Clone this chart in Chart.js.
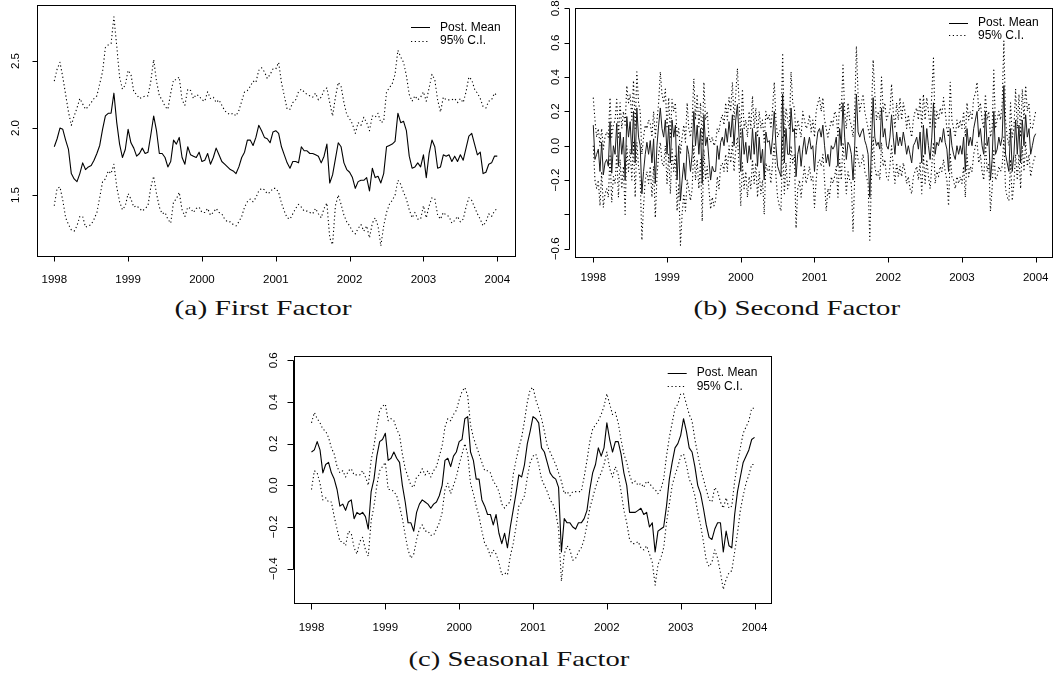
<!DOCTYPE html>
<html>
<head>
<meta charset="utf-8">
<title>Factors</title>
<script src="https://cdn.jsdelivr.net/npm/chart.js@4.4.1/dist/chart.umd.min.js"></script>
<style>
  html, body { margin: 0; padding: 0; background: #fff; }
  body { width: 1055px; height: 674px; position: relative; overflow: hidden; }
  canvas { position: absolute; display: block; }
  .caption {
    position: absolute;
    font-family: "Liberation Serif", "DejaVu Serif", serif;
    font-size: 22px;
    line-height: 22px;
    color: #111;
    white-space: nowrap;
    transform-origin: center center;
  }
</style>
</head>
<body>
<canvas id="firstChart" width="520" height="295" style="left:0;top:0"></canvas>
<canvas id="secondChart" width="535" height="295" style="left:520px;top:0"></canvas>
<canvas id="seasonalChart" width="560" height="300" style="left:240px;top:340px"></canvas>
<div class="caption" id="capFirst">(a) First Factor</div>
<div class="caption" id="capSecond">(b) Second Factor</div>
<div class="caption" id="capSeasonal">(c) Seasonal Factor</div>
<script>
// Eje temporal común
const startYear = 1998;
const yearTicks = [1998, 1999, 2000, 2001, 2002, 2003, 2004];
const legendLabels = ['Post. Mean', '95% C.I.'];

// (a) Primer factor, datos quincenales
const firstPerYear = 26;
const firstMean = [
  1.86, 1.92, 2.00, 1.99, 1.91, 1.84, 1.66, 1.62, 1.60, 1.66,
  1.74, 1.69, 1.71, 1.72, 1.76, 1.81, 1.87, 1.99, 2.09, 2.11,
  2.11, 2.26, 2.04, 1.88, 1.78, 1.84, 1.99, 1.89, 1.85, 1.79,
  1.81, 1.85, 1.81, 1.82, 1.95, 2.09, 1.98, 1.81, 1.81, 1.78,
  1.71, 1.75, 1.91, 1.88, 1.93, 1.78, 1.73, 1.86, 1.80, 1.79,
  1.78, 1.82, 1.75, 1.76, 1.81, 1.73, 1.78, 1.85, 1.80, 1.75,
  1.73, 1.71, 1.69, 1.68, 1.66, 1.71, 1.78, 1.82, 1.91, 1.91,
  1.87, 1.93, 2.02, 1.98, 1.93, 1.92, 1.89, 1.97, 1.98, 1.96,
  1.86, 1.80, 1.74, 1.70, 1.75, 1.75, 1.74, 1.86, 1.83, 1.83,
  1.81, 1.81, 1.80, 1.79, 1.74, 1.79, 1.88, 1.59, 1.65, 1.77,
  1.89, 1.86, 1.74, 1.69, 1.67, 1.63, 1.55, 1.60, 1.61, 1.61,
  1.63, 1.53, 1.70, 1.63, 1.64, 1.59, 1.66, 1.86, 1.87, 1.88,
  1.90, 2.11, 2.04, 2.05, 1.98, 1.79, 1.70, 1.71, 1.74, 1.71,
  1.80, 1.63, 1.81, 1.91, 1.86, 1.70, 1.71, 1.80, 1.79, 1.80,
  1.75, 1.79, 1.75, 1.80, 1.76, 1.85, 1.94, 1.96, 1.88, 1.80,
  1.82, 1.66, 1.67, 1.73, 1.74, 1.79, 1.79
];
const firstUpper = [
  2.35, 2.44, 2.49, 2.38, 2.25, 2.12, 2.02, 2.09, 2.15, 2.22,
  2.18, 2.14, 2.16, 2.19, 2.22, 2.24, 2.33, 2.42, 2.60, 2.62,
  2.63, 2.83, 2.61, 2.38, 2.29, 2.32, 2.43, 2.40, 2.27, 2.25,
  2.22, 2.23, 2.24, 2.24, 2.35, 2.51, 2.35, 2.24, 2.21, 2.16,
  2.14, 2.26, 2.36, 2.36, 2.38, 2.21, 2.17, 2.29, 2.28, 2.22,
  2.25, 2.24, 2.21, 2.20, 2.27, 2.22, 2.23, 2.19, 2.21, 2.17,
  2.13, 2.11, 2.10, 2.11, 2.09, 2.13, 2.20, 2.27, 2.28, 2.31,
  2.35, 2.34, 2.43, 2.45, 2.42, 2.37, 2.40, 2.44, 2.44, 2.49,
  2.34, 2.24, 2.14, 2.14, 2.19, 2.21, 2.27, 2.29, 2.27, 2.25,
  2.24, 2.23, 2.26, 2.21, 2.23, 2.28, 2.30, 2.19, 2.09, 2.23,
  2.34, 2.31, 2.19, 2.10, 2.07, 2.03, 1.96, 2.04, 2.02, 2.08,
  2.04, 1.98, 2.09, 2.08, 2.11, 2.04, 2.05, 2.27, 2.30, 2.33,
  2.40, 2.58, 2.53, 2.49, 2.39, 2.25, 2.20, 2.24, 2.21, 2.23,
  2.27, 2.20, 2.30, 2.40, 2.36, 2.21, 2.12, 2.23, 2.21, 2.21,
  2.21, 2.22, 2.19, 2.22, 2.19, 2.27, 2.38, 2.36, 2.29, 2.26,
  2.22, 2.16, 2.15, 2.20, 2.21, 2.26, 2.24
];
const firstLower = [
  1.42, 1.55, 1.56, 1.46, 1.33, 1.28, 1.24, 1.23, 1.27, 1.34,
  1.34, 1.26, 1.27, 1.28, 1.32, 1.37, 1.48, 1.60, 1.62, 1.68,
  1.66, 1.73, 1.56, 1.45, 1.39, 1.42, 1.51, 1.47, 1.41, 1.42,
  1.40, 1.38, 1.40, 1.42, 1.56, 1.64, 1.51, 1.41, 1.36, 1.37,
  1.32, 1.29, 1.45, 1.47, 1.52, 1.39, 1.34, 1.41, 1.40, 1.37,
  1.40, 1.41, 1.37, 1.37, 1.40, 1.35, 1.37, 1.40, 1.37, 1.36,
  1.32, 1.30, 1.30, 1.28, 1.27, 1.30, 1.34, 1.41, 1.45, 1.47,
  1.45, 1.48, 1.53, 1.55, 1.54, 1.51, 1.52, 1.55, 1.55, 1.52,
  1.44, 1.38, 1.33, 1.32, 1.36, 1.40, 1.43, 1.41, 1.38, 1.38,
  1.37, 1.36, 1.40, 1.36, 1.33, 1.40, 1.44, 1.18, 1.13, 1.42,
  1.50, 1.43, 1.35, 1.30, 1.27, 1.23, 1.21, 1.25, 1.28, 1.23,
  1.27, 1.18, 1.29, 1.33, 1.27, 1.12, 1.27, 1.37, 1.43, 1.46,
  1.50, 1.61, 1.58, 1.52, 1.47, 1.39, 1.33, 1.37, 1.32, 1.32,
  1.42, 1.33, 1.42, 1.48, 1.47, 1.35, 1.32, 1.37, 1.35, 1.34,
  1.29, 1.31, 1.34, 1.30, 1.32, 1.41, 1.48, 1.46, 1.41, 1.36,
  1.32, 1.27, 1.30, 1.36, 1.34, 1.38, 1.40
];
const firstYTicks = [1.5, 2.0, 2.5];
const firstYLabels = ['1.5', '2.0', '2.5'];

// (b) Segundo factor, datos casi semanales
const secondPerYear = 44;
const secondMean = [
  0.12, -0.08, -0.05, -0.02, -0.15, 0.02, -0.17, -0.10, -0.08, -0.12,
  0.14, -0.16, 0.00, -0.05, 0.13, -0.12, 0.08, -0.05, 0.05, -0.20,
  0.17, 0.05, 0.14, -0.05, 0.20, -0.10, 0.22, 0.05, 0.00, -0.28,
  -0.15, -0.05, 0.02, -0.05, 0.03, -0.10, 0.04, -0.22, 0.00, 0.12,
  0.22, 0.10, 0.05, 0.15, -0.05, 0.12, -0.10, 0.15, 0.05, 0.12,
  -0.20, 0.00, -0.32, -0.20, -0.10, -0.20, 0.00, -0.05, -0.15, -0.05,
  0.20, 0.00, 0.12, -0.05, 0.10, -0.22, 0.18, 0.00, 0.05, -0.08,
  -0.20, -0.12, -0.15, -0.15, 0.00, -0.08, 0.02, 0.05, 0.00, 0.10,
  0.02, 0.14, 0.05, 0.18, 0.00, 0.15, 0.24, 0.05, -0.15, 0.10,
  -0.05, 0.02, -0.10, 0.00, -0.08, 0.10, -0.05, 0.08, -0.12, 0.05,
  -0.10, -0.02, -0.20, 0.08, 0.02, 0.03, -0.05, 0.05, 0.20, 0.00,
  -0.12, -0.15, -0.18, 0.30, -0.10, 0.10, -0.05,
  -0.05, 0.22, 0.08, 0.10, -0.18, -0.05, 0.00, -0.12, -0.02, 0.05,
  -0.05, 0.00, 0.05, -0.02, 0.00, -0.15, 0.00, 0.08, 0.10, 0.05,
  0.12, 0.00, -0.10, -0.05, -0.12, 0.00, -0.02, 0.00, 0.05, -0.12,
  0.10, 0.00, 0.25, 0.05, -0.08, 0.02, 0.00, -0.05, -0.20, 0.00,
  0.30, 0.08, 0.05, 0.08, 0.10, 0.03, 0.00, -0.05, -0.30, 0.00,
  0.28, 0.05, 0.00, 0.02, -0.02, 0.22, 0.05, 0.10, 0.00, -0.02,
  0.05, 0.18, 0.05, -0.05, 0.08, 0.00, 0.05, 0.00, 0.08, 0.02,
  -0.05, 0.00, -0.05, -0.10, 0.00, 0.02, 0.05, -0.02, 0.08, -0.10,
  0.12, -0.05, 0.10, 0.00, -0.08, 0.05, 0.25, -0.05, 0.02, 0.00,
  0.05, 0.02, 0.10, 0.02, -0.02, -0.15, 0.10, 0.00, -0.05, -0.08,
  0.00, -0.05, 0.00, -0.05, 0.05, -0.15, 0.10, 0.00, 0.05, 0.00,
  0.10, 0.15, 0.20, 0.05, 0.10, 0.00, -0.05, 0.20, 0.00, 0.05,
  -0.20, -0.08, 0.20, -0.05, -0.02, 0.05, 0.00, 0.05, 0.35, -0.05,
  -0.10, -0.15, 0.10, -0.15, -0.05, 0.15, -0.05, 0.12, -0.10, 0.15,
  0.00, 0.18, 0.05, 0.10, -0.05, 0.00, 0.05, 0.07
];
const secondUpper = [
  0.28, 0.15, 0.05, 0.10, 0.00, 0.10, -0.02, 0.05, 0.08, 0.05,
  0.28, 0.05, 0.12, 0.15, 0.27, 0.05, 0.25, 0.10, 0.20, 0.12,
  0.35, 0.25, 0.30, 0.15, 0.38, 0.10, 0.43, 0.25, 0.20, -0.05,
  0.05, 0.12, 0.10, 0.15, 0.13, 0.05, 0.20, 0.05, 0.15, 0.25,
  0.43, 0.30, 0.25, 0.33, 0.10, 0.28, 0.05, 0.27, 0.20, 0.25,
  0.05, 0.10, -0.05, 0.05, 0.12, 0.02, 0.25, 0.10, 0.05, 0.15,
  0.39, 0.15, 0.30, 0.10, 0.25, 0.00, 0.37, 0.15, 0.20, 0.05,
  0.02, 0.05, 0.00, 0.02, 0.10, 0.08, 0.15, 0.18, 0.12, 0.25,
  0.15, 0.28, 0.20, 0.37, 0.15, 0.30, 0.45, 0.25, 0.05, 0.33,
  0.10, 0.15, 0.05, 0.20, 0.10, 0.29, 0.10, 0.22, 0.05, 0.20,
  0.10, 0.15, 0.02, 0.20, 0.15, 0.18, 0.10, 0.22, 0.37, 0.15,
  0.05, 0.08, 0.10, 0.54, 0.05, 0.22, 0.15,
  0.10, 0.43, 0.25, 0.22, 0.05, 0.15, 0.10, 0.05, 0.20, 0.15,
  0.10, 0.12, 0.18, 0.08, 0.15, 0.05, 0.20, 0.25, 0.28, 0.20,
  0.28, 0.15, 0.10, 0.05, 0.10, 0.15, 0.12, 0.20, 0.18, 0.05,
  0.25, 0.20, 0.47, 0.20, 0.10, 0.25, 0.15, 0.12, 0.05, 0.20,
  0.58, 0.30, 0.20, 0.25, 0.30, 0.20, 0.15, 0.10, 0.05, 0.20,
  0.50, 0.30, 0.15, 0.20, 0.15, 0.40, 0.20, 0.25, 0.15, 0.18,
  0.20, 0.36, 0.20, 0.10, 0.25, 0.15, 0.28, 0.15, 0.25, 0.20,
  0.10, 0.18, 0.10, 0.05, 0.15, 0.20, 0.22, 0.15, 0.28, 0.10,
  0.30, 0.15, 0.28, 0.20, 0.10, 0.30, 0.51, 0.10, 0.20, 0.15,
  0.22, 0.18, 0.28, 0.20, 0.10, 0.05, 0.37, 0.15, 0.10, 0.05,
  0.15, 0.10, 0.15, 0.10, 0.20, 0.05, 0.25, 0.15, 0.20, 0.15,
  0.28, 0.30, 0.37, 0.20, 0.25, 0.15, 0.10, 0.30, 0.15, 0.20,
  0.05, 0.10, 0.44, 0.10, 0.15, 0.20, 0.15, 0.25, 0.61, 0.15,
  0.05, 0.00, 0.25, 0.05, 0.10, 0.33, 0.10, 0.30, 0.05, 0.33,
  0.15, 0.35, 0.20, 0.25, 0.10, 0.10, 0.15, 0.20
];
const secondLower = [
  0.00, -0.20, -0.25, -0.20, -0.35, -0.15, -0.36, -0.28, -0.25, -0.30,
  -0.05, -0.33, -0.18, -0.22, -0.05, -0.30, -0.08, -0.25, -0.12, -0.40,
  0.00, -0.15, -0.02, -0.20, 0.02, -0.30, 0.02, -0.12, -0.20, -0.55,
  -0.35, -0.20, -0.15, -0.22, -0.12, -0.30, -0.12, -0.42, -0.18, -0.05,
  0.02, -0.10, -0.12, 0.00, -0.22, -0.05, -0.28, -0.02, -0.15, -0.05,
  -0.38, -0.22, -0.58, -0.40, -0.28, -0.38, -0.20, -0.25, -0.32, -0.25,
  0.00, -0.20, -0.08, -0.25, -0.08, -0.44, -0.02, -0.20, -0.12, -0.25,
  -0.37, -0.30, -0.35, -0.32, -0.18, -0.25, -0.12, -0.10, -0.15, -0.05,
  -0.15, 0.00, -0.10, 0.02, -0.15, -0.02, 0.05, -0.12, -0.35, -0.10,
  -0.25, -0.15, -0.30, -0.18, -0.25, -0.08, -0.22, -0.10, -0.30, -0.15,
  -0.28, -0.20, -0.40, -0.10, -0.15, -0.12, -0.22, -0.10, 0.02, -0.18,
  -0.30, -0.35, -0.38, 0.05, -0.28, -0.10, -0.25,
  -0.22, 0.00, -0.10, -0.05, -0.48, -0.25, -0.20, -0.30, -0.20, -0.12,
  -0.22, -0.18, -0.12, -0.20, -0.18, -0.36, -0.20, -0.10, -0.08, -0.12,
  -0.05, -0.20, -0.38, -0.25, -0.30, -0.18, -0.22, -0.18, -0.12, -0.30,
  -0.08, -0.20, 0.02, -0.12, -0.28, -0.15, -0.20, -0.22, -0.50, -0.18,
  0.00, -0.08, -0.12, -0.10, -0.05, -0.15, -0.18, -0.22, -0.55, -0.18,
  0.05, -0.12, -0.18, -0.15, -0.20, 0.02, -0.12, -0.08, -0.18, -0.20,
  -0.12, 0.00, -0.12, -0.22, -0.10, -0.18, -0.12, -0.18, -0.10, -0.15,
  -0.22, -0.18, -0.25, -0.28, -0.18, -0.15, -0.12, -0.20, -0.10, -0.28,
  -0.05, -0.22, -0.08, -0.18, -0.25, -0.12, 0.02, -0.22, -0.15, -0.18,
  -0.12, -0.15, -0.08, -0.15, -0.20, -0.35, -0.05, -0.18, -0.20, -0.25,
  -0.18, -0.22, -0.18, -0.22, -0.12, -0.30, -0.05, -0.18, -0.12, -0.15,
  -0.05, 0.00, 0.02, -0.10, -0.05, -0.15, -0.20, 0.02, -0.15, -0.10,
  -0.38, -0.25, -0.02, -0.20, -0.18, -0.12, -0.15, -0.12, 0.05, -0.25,
  -0.30, -0.32, -0.08, -0.32, -0.22, -0.05, -0.20, -0.05, -0.25, 0.00,
  -0.15, 0.02, -0.12, -0.05, -0.18, -0.12, -0.08, -0.05
];
const secondYTicks = [-0.6, -0.4, -0.2, 0.0, 0.2, 0.4, 0.6, 0.8];
const secondYLabels = ['\u22120.6', '', '\u22120.2', '0.0', '0.2', '0.4', '0.6', '0.8'];

// (c) Factor estacional, datos quincenales
const seasonalPerYear = 26;
const seasonalMean = [
  0.16, 0.17, 0.21, 0.17, 0.06, 0.10, 0.11, 0.06, 0.03, -0.02,
  -0.10, -0.09, -0.12, -0.08, -0.07, -0.16, -0.13, -0.14, -0.13, -0.15,
  -0.21, -0.03, 0.03, 0.14, 0.21, 0.22, 0.25, 0.12, 0.13, 0.16,
  0.13, 0.11, 0.00, -0.08, -0.18, -0.18, -0.22, -0.13, -0.09, -0.07,
  -0.08, -0.09, -0.11, -0.09, -0.08, -0.05, 0.00, 0.12, 0.13, 0.09,
  0.14, 0.16, 0.21, 0.22, 0.32, 0.33, 0.16, 0.12, 0.03, 0.03,
  -0.07, -0.10, -0.14, -0.14, -0.19, -0.14, -0.23, -0.28, -0.23, -0.30,
  -0.20, -0.12, -0.04, 0.05, 0.04, 0.10, 0.20, 0.26, 0.33, 0.32,
  0.30, 0.18, 0.16, 0.11, 0.06, 0.04, 0.03, -0.01, -0.32, -0.16,
  -0.18, -0.18, -0.20, -0.21, -0.18, -0.18, -0.16, -0.12, -0.02, 0.06,
  0.10, 0.18, 0.14, 0.18, 0.30, 0.22, 0.16, 0.21, 0.21, 0.15,
  0.06, 0.00, -0.13, -0.13, -0.13, -0.12, -0.11, -0.14, -0.13, -0.20,
  -0.18, -0.32, -0.22, -0.21, -0.20, -0.10, 0.03, 0.11, 0.18, 0.20,
  0.24, 0.32, 0.26, 0.18, 0.16, 0.09, 0.00, -0.04, -0.11, -0.19,
  -0.25, -0.26, -0.21, -0.18, -0.18, -0.32, -0.22, -0.29, -0.30, -0.14,
  -0.03, 0.04, 0.11, 0.14, 0.17, 0.22, 0.23
];
const seasonalUpper = [
  0.30, 0.35, 0.32, 0.30, 0.27, 0.26, 0.23, 0.18, 0.15, 0.09,
  0.06, 0.07, 0.04, 0.07, 0.08, 0.05, 0.05, 0.05, 0.07, 0.04,
  0.00, 0.12, 0.19, 0.28, 0.36, 0.38, 0.39, 0.31, 0.32, 0.31,
  0.27, 0.24, 0.15, 0.08, 0.04, 0.00, -0.01, 0.04, 0.05, 0.08,
  0.05, 0.07, 0.04, 0.07, 0.09, 0.14, 0.19, 0.28, 0.32, 0.31,
  0.34, 0.36, 0.41, 0.45, 0.47, 0.43, 0.29, 0.23, 0.19, 0.15,
  0.11, 0.07, 0.07, 0.06, 0.02, 0.00, -0.03, -0.09, -0.11, -0.09,
  -0.08, 0.05, 0.12, 0.18, 0.23, 0.31, 0.40, 0.46, 0.47, 0.41,
  0.37, 0.32, 0.26, 0.19, 0.16, 0.13, 0.10, 0.06, 0.02, -0.04,
  -0.03, -0.05, -0.03, -0.03, -0.03, -0.03, 0.04, 0.12, 0.21, 0.27,
  0.29, 0.31, 0.34, 0.38, 0.44, 0.39, 0.34, 0.35, 0.30, 0.22,
  0.15, 0.11, 0.05, 0.01, 0.02, 0.00, 0.01, -0.01, 0.02, 0.01,
  -0.01, -0.02, -0.04, -0.02, 0.03, 0.14, 0.23, 0.30, 0.37, 0.39,
  0.44, 0.44, 0.39, 0.34, 0.31, 0.22, 0.15, 0.08, 0.03, -0.02,
  -0.07, -0.08, -0.01, -0.03, -0.08, -0.11, -0.06, -0.11, -0.10, 0.02,
  0.11, 0.18, 0.25, 0.28, 0.31, 0.37, 0.37
];
const seasonalLower = [
  -0.02, 0.07, 0.06, 0.01, -0.07, -0.06, -0.08, -0.08, -0.15, -0.21,
  -0.27, -0.27, -0.29, -0.22, -0.23, -0.30, -0.33, -0.27, -0.25, -0.31,
  -0.34, -0.17, -0.10, 0.00, 0.07, 0.09, 0.11, -0.02, -0.02, -0.03,
  -0.05, -0.10, -0.16, -0.24, -0.31, -0.35, -0.33, -0.26, -0.21, -0.19,
  -0.22, -0.22, -0.24, -0.24, -0.21, -0.18, -0.13, -0.02, 0.01, -0.04,
  0.00, 0.04, 0.10, 0.15, 0.20, 0.15, 0.01, -0.04, -0.10, -0.15,
  -0.22, -0.28, -0.30, -0.34, -0.31, -0.33, -0.37, -0.43, -0.42, -0.43,
  -0.34, -0.28, -0.20, -0.10, -0.08, -0.05, 0.04, 0.11, 0.14, 0.15,
  0.10, 0.03, 0.00, -0.03, -0.07, -0.09, -0.13, -0.21, -0.46, -0.33,
  -0.29, -0.31, -0.36, -0.35, -0.32, -0.30, -0.26, -0.19, -0.11, -0.06,
  -0.01, 0.03, 0.06, 0.10, 0.16, 0.08, 0.04, 0.09, 0.05, -0.03,
  -0.12, -0.18, -0.26, -0.28, -0.28, -0.27, -0.30, -0.31, -0.29, -0.33,
  -0.37, -0.48, -0.38, -0.35, -0.30, -0.18, -0.09, 0.00, 0.05, 0.09,
  0.14, 0.15, 0.10, 0.03, 0.00, -0.05, -0.13, -0.19, -0.27, -0.36,
  -0.39, -0.37, -0.31, -0.35, -0.42, -0.50, -0.45, -0.42, -0.41, -0.32,
  -0.23, -0.12, -0.05, 0.01, 0.05, 0.10, 0.10
];
const seasonalYTicks = [-0.4, -0.2, 0.0, 0.2, 0.4, 0.6];
const seasonalYLabels = ['\u22120.4', '\u22120.2', '0.0', '0.2', '0.4', '0.6'];

const tickFont = '11.5px "Liberation Sans", Arial, sans-serif';
const dotDash = [1.2, 2.6];

function seriesPoints(values, perYear) {
  return values.map((v, i) => ({ x: startYear + i / perYear, y: v }));
}

// Ejes al estilo R: caja, ejes con marcas hacia fuera, etiquetas del eje y giradas, leyenda
const rAxes = {
  id: 'rAxes',
  afterDatasetsDraw(chart, args, opts) {
    const { ctx, chartArea: area } = chart;
    const xs = chart.scales.x;
    const ys = chart.scales.y;
    const crisp = v => Math.round(v) + 0.5;
    ctx.save();
    ctx.strokeStyle = '#000';
    ctx.fillStyle = '#000';
    ctx.lineWidth = 1;
    ctx.setLineDash([]);

    const left = crisp(area.left), right = crisp(area.right);
    const top = crisp(area.top), bottom = crisp(area.bottom);
    ctx.strokeRect(left, top, right - left, bottom - top);

    const axisX = crisp(area.left - opts.yGap);
    const yPix = opts.yTicks.map(v => crisp(ys.getPixelForValue(v)));
    const xPix = yearTicks.map(v => crisp(xs.getPixelForValue(v)));
    ctx.beginPath();
    ctx.moveTo(axisX, Math.min(...yPix));
    ctx.lineTo(axisX, Math.max(...yPix));
    yPix.forEach(p => { ctx.moveTo(axisX, p); ctx.lineTo(axisX - opts.tickLen, p); });
    ctx.moveTo(Math.min(...xPix), bottom);
    ctx.lineTo(Math.max(...xPix), bottom);
    xPix.forEach(p => { ctx.moveTo(p, bottom); ctx.lineTo(p, bottom + opts.tickLen); });
    ctx.stroke();

    ctx.font = tickFont;
    ctx.textAlign = 'center';
    ctx.textBaseline = 'middle';
    yearTicks.forEach(v => {
      ctx.fillText(String(v), xs.getPixelForValue(v), area.bottom + opts.xLabelGap);
    });
    opts.yTicks.forEach((v, i) => {
      ctx.save();
      ctx.translate(axisX - opts.yLabelGap, ys.getPixelForValue(v));
      ctx.rotate(-Math.PI / 2);
      ctx.fillText(opts.yLabels[i], 0, 0);
      ctx.restore();
    });

    // leyenda arriba a la derecha
    const lg = opts.legend;
    const lx = area.right - lg.right;
    const ly = area.top + lg.top;
    ctx.beginPath();
    ctx.moveTo(lx, crisp(ly));
    ctx.lineTo(lx + 19, crisp(ly));
    ctx.stroke();
    ctx.setLineDash(dotDash);
    ctx.beginPath();
    ctx.moveTo(lx, crisp(ly + lg.gap));
    ctx.lineTo(lx + 19, crisp(ly + lg.gap));
    ctx.stroke();
    ctx.setLineDash([]);
    ctx.textAlign = 'left';
    ctx.font = '12px "Liberation Sans", Arial, sans-serif';
    legendLabels.forEach((txt, i) => ctx.fillText(txt, lx + 29, ly + i * lg.gap));
    ctx.restore();
  }
};

function buildPanel(canvasId, cfg) {
  const ctx = document.getElementById(canvasId).getContext('2d');
  const line = { pointRadius: 0, tension: 0, fill: false, borderJoinStyle: 'round' };
  return new Chart(ctx, {
    type: 'line',
    data: {
      datasets: [
        Object.assign({ label: legendLabels[0], data: seriesPoints(cfg.mean, cfg.perYear),
          borderColor: cfg.meanColor, borderWidth: cfg.meanWidth }, line),
        Object.assign({ label: legendLabels[1], data: seriesPoints(cfg.upper, cfg.perYear),
          borderColor: '#000', borderWidth: 1.1, borderDash: dotDash }, line),
        Object.assign({ label: 'lower', data: seriesPoints(cfg.lower, cfg.perYear),
          borderColor: '#000', borderWidth: 1.1, borderDash: dotDash }, line)
      ]
    },
    options: {
      responsive: false,
      animation: false,
      events: [],
      layout: { padding: cfg.padding },
      scales: {
        x: { type: 'linear', display: false, min: cfg.xMin, max: cfg.xMax },
        y: { type: 'linear', display: false, min: cfg.yMin, max: cfg.yMax }
      },
      plugins: {
        legend: { display: false },
        tooltip: { enabled: false },
        rAxes: cfg.axes
      }
    },
    plugins: [rAxes]
  });
}

function placeCaption(id, centerX, centerY, width) {
  const el = document.getElementById(id);
  const w = el.offsetWidth;
  const h = el.offsetHeight;
  el.style.left = (centerX - w / 2) + 'px';
  el.style.top = (centerY - h / 2) + 'px';
  el.style.transform = 'scaleX(' + (width / w).toFixed(3) + ')';
}

document.addEventListener('DOMContentLoaded', () => {
  buildPanel('firstChart', {
    mean: firstMean, upper: firstUpper, lower: firstLower, perYear: firstPerYear,
    meanColor: '#000', meanWidth: 1.1,
    padding: { left: 37, right: 5, top: 5, bottom: 39 },
    xMin: 1997.766, xMax: 2004.24, yMin: 1.045, yMax: 2.918,
    axes: { yTicks: firstYTicks, yLabels: firstYLabels, yGap: 0, tickLen: 5, yLabelGap: 22,
      xLabelGap: 23.5, legend: { right: 104, top: 22.3, gap: 13.7 } }
  });

  buildPanel('secondChart', {
    mean: secondMean, upper: secondUpper, lower: secondLower, perYear: secondPerYear,
    meanColor: '#1a1a1a', meanWidth: 1,
    padding: { left: 55, right: 3, top: 8, bottom: 38 },
    xMin: 1997.752, xMax: 2004.221, yMin: -0.648, yMax: 0.802,
    axes: { yTicks: secondYTicks, yLabels: secondYLabels, yGap: 6, tickLen: 5, yLabelGap: 14,
      xLabelGap: 21.3, legend: { right: 103, top: 15, gap: 12.4 } }
  });

  buildPanel('seasonalChart', {
    mean: seasonalMean, upper: seasonalUpper, lower: seasonalLower, perYear: seasonalPerYear,
    meanColor: '#000', meanWidth: 1.1,
    padding: { left: 54, right: 29, top: 16, bottom: 37 },
    xMin: 1997.763, xMax: 2004.223, yMin: -0.565, yMax: 0.621,
    axes: { yTicks: seasonalYTicks, yLabels: seasonalYLabels, yGap: 1, tickLen: 6, yLabelGap: 20,
      xLabelGap: 24.8, legend: { right: 103.3, top: 16.6, gap: 13.7 } }
  });

  placeCaption('capFirst', 262.5, 307.5, 177);
  placeCaption('capSecond', 796.7, 307.5, 207);
  placeCaption('capSeasonal', 518.5, 659, 221);
});
</script>
</body>
</html>
